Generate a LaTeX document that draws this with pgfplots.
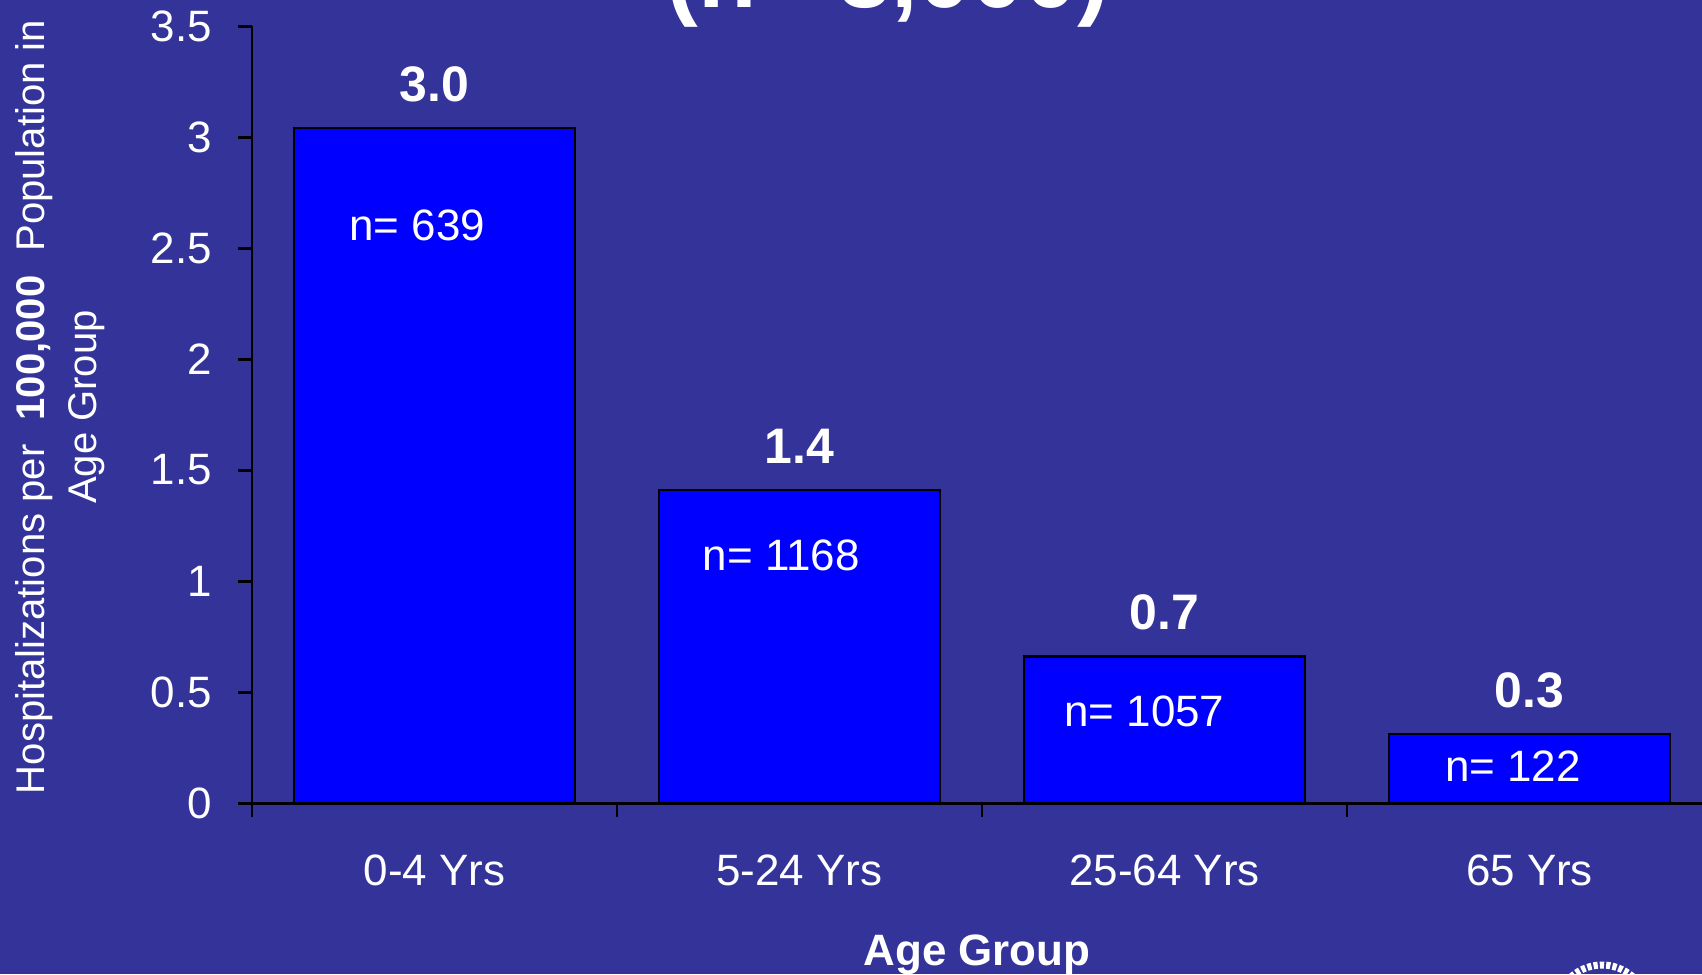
\documentclass[border=0pt]{standalone}
\usepackage{fontspec}
\setmainfont{Liberation Sans}
\usepackage{pgfplots}
\pgfplotsset{compat=1.18}

\definecolor{slide}{RGB}{51,51,153}
\definecolor{barblue}{RGB}{0,0,255}

\begin{document}
\begin{tikzpicture}[x=0.1mm,y=0.1mm]
\useasboundingbox (0,0) rectangle (1702,974);
\clip (0,0) rectangle (1702,974);
\fill[slide] (0,0) rectangle (1702,974);

% heading, running off the top edge
\node[anchor=base, text=white, inner sep=0,
      font=\fontsize{27.2}{32}\selectfont\bfseries] at (888,966) {(n= 3,000)};

% y-axis title
\node[rotate=90, align=center, text=white, inner sep=0,
      font=\fontsize{11.4}{14.8}\selectfont] at (60,567)
  {Hospitalizations per\hspace{0.6em}\textbf{100,000}\hspace{0.6em}Population in\\Age Group};

% x-axis title
\node[anchor=base, text=white, inner sep=0,
      font=\fontsize{12.5}{15}\selectfont\bfseries] at (977,9) {Age Group};

% seal edge in the corner
\draw[white, line width=2pt, dash pattern=on 1.2pt off 0.6pt]
  (1602,-37) ++(140:4.6mm) arc[start angle=140, end angle=40, radius=4.6mm];

\begin{axis}[
  at={(25.2mm,17.1mm)}, anchor=south west,
  scale only axis, width=146mm, height=77.7mm,
  xmin=-0.5, xmax=3.5, ymin=0, ymax=3.5,
  axis lines=left,
  axis line style={-, black, line width=0.85pt},
  tick align=outside,
  xtick={0,1,2,3},
  xticklabels={0-4 Yrs, 5-24 Yrs, 25-64 Yrs, 65 Yrs},
  minor xtick={-0.5,0.5,1.5,2.5,3.5},
  major x tick style={draw=none},
  minor x tick style={black, line width=0.85pt},
  minor tick length=1.4mm,
  ytick={0,0.5,...,3.5},
  y tick style={black, line width=0.85pt},
  major tick length=1.35mm,
  tick label style={text=white, font=\fontsize{12.5}{15}\selectfont},
  /pgf/number format/assume math mode=true,
  yticklabel style={anchor=east, inner sep=0pt, xshift=-2.6mm},
  xticklabel style={anchor=base, inner sep=0pt, yshift=-6.9mm},
  ybar, bar width=0.77,
  nodes near coords={\pgfmathprintnumber[fixed,fixed zerofill,precision=1]{\pgfplotspointmeta}},
  every node near coord/.append style={anchor=base, yshift=2.7mm, inner sep=0pt,
      text=white, font=\fontsize{14.2}{17}\selectfont\bfseries},
  clip=false,
]
\addplot[fill=barblue, draw=black, line width=0.65pt]
  coordinates {(0,3.04) (1,1.41) (2,0.66) (3,0.31)};

\node[text=white, font=\fontsize{12.5}{15}\selectfont] at (axis cs:-0.047,2.60) {n= 639};
\node[text=white, font=\fontsize{12.5}{15}\selectfont] at (axis cs:0.95,1.117) {n= 1168};
\node[text=white, font=\fontsize{12.5}{15}\selectfont] at (axis cs:1.945,0.414) {n= 1057};
\node[text=white, font=\fontsize{12.5}{15}\selectfont] at (axis cs:2.955,0.167) {n= 122};
\end{axis}
\end{tikzpicture}
\end{document}
